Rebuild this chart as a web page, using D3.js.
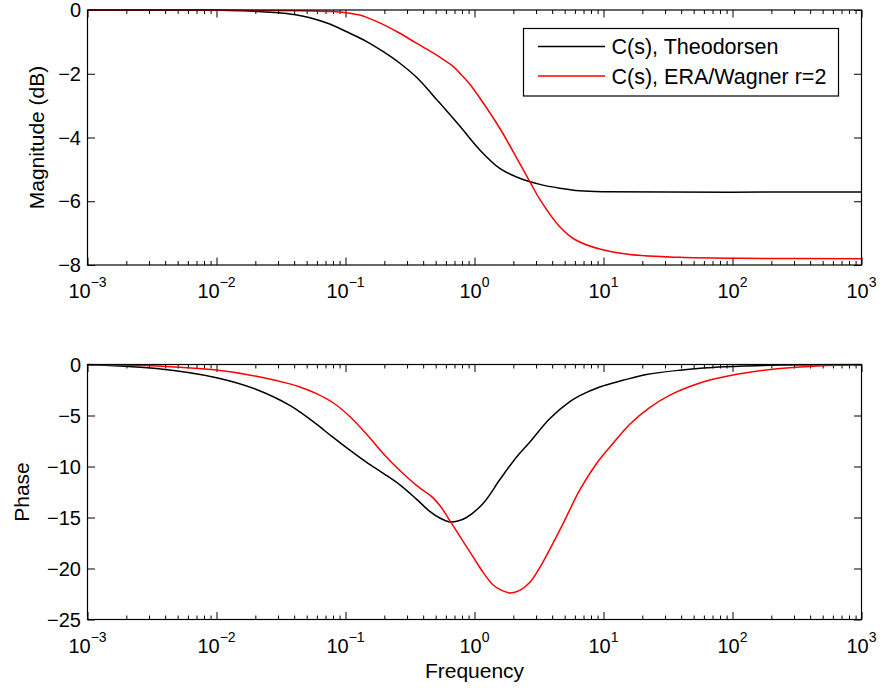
<!DOCTYPE html>
<html>
<head>
<meta charset="utf-8">
<script src="https://cdn.jsdelivr.net/npm/d3@7"></script>
<style>
  html, body { margin: 0; padding: 0; background: #fff; }
  svg { display: block; }
  text { font-family: "Liberation Sans", Arial, Helvetica, sans-serif; fill: #000; }
</style>
</head>
<body>
<svg id="chart" width="880" height="689"></svg>
<script>
// Frequency response of C(s): magnitude (dB) and phase (deg)
const legendLabels = ["C(s), Theodorsen", "C(s), ERA/Wagner r=2"];
const seriesColors = ["#000000", "#ff0000"];

const magTheoFreq = [0.001, 0.003, 0.01, 0.018, 0.026, 0.037, 0.053, 0.0755, 0.108, 0.146, 0.195, 0.264, 0.357, 0.538, 0.769, 1.10, 1.57, 2.24, 3.21, 4.58, 6.55, 10.4, 1000];
const magTheoDb   = [0, 0, -0.01, -0.03, -0.07, -0.125, -0.24, -0.44, -0.73, -0.99, -1.30, -1.67, -2.12, -2.92, -3.64, -4.39, -4.97, -5.28, -5.47, -5.59, -5.67, -5.70, -5.71];

const magEraFreq = [0.001, 0.044, 0.080, 0.108, 0.129, 0.146, 0.195, 0.264, 0.357, 0.475, 0.538, 0.679, 0.769, 0.920, 1.10, 1.57, 2.24, 2.69, 3.21, 4.58, 6.0, 9.35, 16.0, 39.0, 114, 1000];
const magEraDb   = [0, -0.02, -0.05, -0.10, -0.16, -0.23, -0.45, -0.73, -1.05, -1.34, -1.48, -1.76, -1.98, -2.33, -2.76, -3.71, -4.81, -5.39, -5.94, -6.80, -7.20, -7.50, -7.67, -7.76, -7.79, -7.80];

const phaseTheoFreq = [0.001, 0.00343, 0.01, 0.0204, 0.037, 0.0443, 0.0596, 0.0802, 0.108, 0.146, 0.195, 0.264, 0.355, 0.450, 0.538, 0.644, 0.742, 0.867, 1.17, 1.57, 2.12, 2.69, 3.84, 5.48, 6.55, 9.35, 14.2, 21.5, 39.0, 70.3, 128, 233, 1000];
const phaseTheoDeg  = [0, -0.4, -1.3, -2.45, -4.0, -4.65, -5.85, -7.15, -8.4, -9.6, -10.65, -11.8, -13.2, -14.4, -15.05, -15.43, -15.35, -15.0, -13.6, -11.3, -9.06, -7.6, -5.3, -3.65, -3.05, -2.2, -1.55, -0.98, -0.56, -0.3, -0.15, -0.05, 0];

const phaseEraFreq = [0.001, 0.00343, 0.01, 0.0204, 0.037, 0.0443, 0.0596, 0.0802, 0.108, 0.146, 0.195, 0.264, 0.355, 0.412, 0.475, 0.548, 0.644, 0.975, 1.17, 1.39, 1.57, 1.88, 2.24, 2.69, 3.21, 3.84, 4.86, 6.55, 8.83, 11.9, 16.0, 22.9, 32.7, 46.7, 70.3, 128, 233, 420, 1000];
const phaseEraDeg  = [0, -0.15, -0.55, -1.15, -1.9, -2.2, -2.85, -3.75, -5.1, -6.85, -8.7, -10.4, -11.85, -12.45, -13.05, -13.95, -15.3, -18.86, -20.4, -21.6, -22.05, -22.39, -22.15, -21.35, -19.9, -18.1, -15.6, -12.3, -9.7, -7.7, -5.85, -4.2, -3.0, -2.15, -1.45, -0.8, -0.4, -0.16, -0.03];

const xDecades = [-3, -2, -1, 0, 1, 2, 3];
const magTicks = [0, -2, -4, -6, -8];
const phaseTicks = [0, -5, -10, -15, -20, -25];

const svg = d3.select("#chart");
const left = 87.5, right = 861.5;
const panels = [
  { top: 10, bottom: 265, domain: [-8, 0], ticks: magTicks, label: "Magnitude (dB)", labelX: 43.5,
    series: [[magTheoFreq, magTheoDb], [magEraFreq, magEraDb]], legend: true },
  { top: 364.5, bottom: 619.5, domain: [-25, 0], ticks: phaseTicks, label: "Phase", labelX: 28.5,
    series: [[phaseTheoFreq, phaseTheoDeg], [phaseEraFreq, phaseEraDeg]], legend: false }
];

const x = d3.scaleLog().domain([1e-3, 1e3]).range([left, right]);
const majorX = xDecades.map(e => Math.pow(10, e));
const minorX = [];
xDecades.slice(0, -1).forEach(e => { for (let m = 2; m <= 9; m++) minorX.push(m * Math.pow(10, e)); });

const fmtMinus = v => (v < 0 ? "\u2212" + Math.abs(v) : String(v));

panels.forEach(p => {
  const y = d3.scaleLinear().domain(p.domain).range([p.bottom, p.top]);
  const g = svg.append("g");

  // inward ticks on all four sides
  const addAxis = (gen, transform) => {
    const a = g.append("g").attr("transform", transform).call(gen);
    a.select(".domain").remove();
    a.selectAll("line").attr("stroke", "#000").attr("stroke-width", 1);
    a.selectAll("text").remove();
  };
  addAxis(d3.axisBottom(x).tickValues(majorX).tickSize(-7.5), `translate(0,${p.bottom})`);
  addAxis(d3.axisBottom(x).tickValues(minorX).tickSize(-4), `translate(0,${p.bottom})`);
  addAxis(d3.axisTop(x).tickValues(majorX).tickSize(-7.5), `translate(0,${p.top})`);
  addAxis(d3.axisTop(x).tickValues(minorX).tickSize(-4), `translate(0,${p.top})`);
  addAxis(d3.axisLeft(y).tickValues(p.ticks).tickSize(-7.5), `translate(${left},0)`);
  addAxis(d3.axisRight(y).tickValues(p.ticks).tickSize(-7.5), `translate(${right},0)`);

  // curves
  const clipId = "clip" + Math.round(p.top);
  g.append("clipPath").attr("id", clipId).append("rect")
    .attr("x", left).attr("y", p.top - 1).attr("width", right - left).attr("height", p.bottom - p.top + 2);
  const line = d3.line().x(d => x(d[0])).y(d => y(d[1])).curve(d3.curveCatmullRom.alpha(0.5));
  p.series.forEach((s, i) => {
    const pts = s[0].map((f, k) => [f, s[1][k]]);
    g.append("path").attr("d", line(pts)).attr("fill", "none")
      .attr("stroke", seriesColors[i]).attr("stroke-width", 1.5)
      .attr("clip-path", `url(#${clipId})`);
  });

  // box
  g.append("rect").attr("x", left).attr("y", p.top)
    .attr("width", right - left).attr("height", p.bottom - p.top)
    .attr("fill", "none").attr("stroke", "#000").attr("stroke-width", 1.2);

  // y tick labels
  g.selectAll(".ylab").data(p.ticks).enter().append("text")
    .attr("x", left - 6.5).attr("y", d => y(d)).attr("dy", "0.36em")
    .attr("text-anchor", "end").attr("font-size", 20).text(fmtMinus);

  // x tick labels 10^n
  const xl = g.selectAll(".xlab").data(xDecades).enter().append("text")
    .attr("x", d => x(Math.pow(10, d))).attr("y", p.bottom + 33)
    .attr("text-anchor", "middle").attr("font-size", 20);
  xl.append("tspan").text("10");
  xl.append("tspan").attr("dy", -11).attr("font-size", 14).text(d => fmtMinus(d));

  // y axis title
  g.append("text").attr("transform", `translate(${p.labelX},${(p.top + p.bottom) / 2}) rotate(-90)`)
    .attr("text-anchor", "middle").attr("font-size", 21).text(p.label);

  if (p.legend) {
    const lx = 523.5, ly = 28.5, lw = 315, lh = 67.5;
    const lg = g.append("g");
    lg.append("rect").attr("x", lx).attr("y", ly).attr("width", lw).attr("height", lh)
      .attr("fill", "#fff").attr("stroke", "#000").attr("stroke-width", 1.2);
    legendLabels.forEach((lab, i) => {
      const yy = 46.5 + i * 29.5;
      lg.append("line").attr("x1", 538).attr("x2", 605).attr("y1", yy).attr("y2", yy)
        .attr("stroke", seriesColors[i]).attr("stroke-width", 1.5);
      lg.append("text").attr("x", 611.5).attr("y", yy).attr("dy", "0.36em")
        .attr("font-size", 21.5).text(lab);
    });
  }
});

svg.append("text").attr("x", (left + right) / 2).attr("y", 678)
  .attr("text-anchor", "middle").attr("font-size", 21).text("Frequency");
</script>
</body>
</html>
